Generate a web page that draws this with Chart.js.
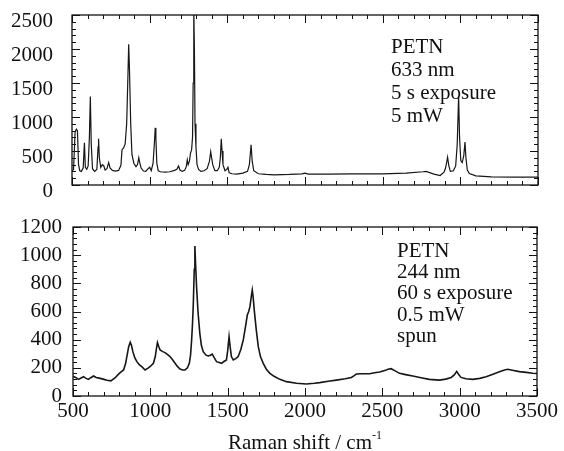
<!DOCTYPE html>
<html>
<head>
<meta charset="utf-8">
<script src="https://cdn.jsdelivr.net/npm/chart.js@4.4.0/dist/chart.umd.min.js"></script>
<style>
  body { margin: 0; background: #fff; }
  #wrap { position: relative; width: 564px; height: 451px; background: #fff; font-family: 'Liberation Serif', serif; color: #111; }
  #topChart { position: absolute; left: 0; top: 0; }
  #bottomChart { position: absolute; left: 0; top: 200px; }
  #xTitle { position: absolute; left: 73px; width: 464px; top: 423px; text-align: center; font-size: 21px; line-height: 24px; }
  #xTitle span { font-size: 12px; vertical-align: 10px; }
</style>
</head>
<body>
<div id="wrap">
  <canvas id="topChart" width="564" height="200"></canvas>
  <canvas id="bottomChart" width="564" height="251"></canvas>
  <div id="xTitle">Raman shift / cm<span>-1</span></div>
</div>
<script>
// 633 nm spectrum (top panel)
const topShift = [500, 510, 520, 528, 535, 542, 550, 560, 572, 580, 586, 595, 604, 612, 618, 624, 632, 645, 660, 668, 671, 676, 685, 695, 705, 713, 725, 736, 745, 760, 780, 800, 815, 822, 832, 842, 852, 860, 865, 870, 878, 886, 898, 912, 922, 930, 936, 945, 960, 975, 990, 1000, 1010, 1022, 1030, 1036, 1040, 1046, 1055, 1070, 1100, 1130, 1160, 1175, 1186, 1195, 1210, 1225, 1236, 1242, 1248, 1256, 1263, 1270, 1276, 1280, 1284, 1288, 1292, 1298, 1305, 1315, 1330, 1350, 1370, 1385, 1393, 1399, 1406, 1420, 1435, 1448, 1455, 1461, 1466, 1472, 1485, 1497, 1504, 1512, 1530, 1560, 1600, 1630, 1642, 1653, 1660, 1670, 1700, 1750, 1800, 1900, 1980, 2000, 2020, 2150, 2300, 2500, 2650, 2760, 2780, 2830, 2870, 2895, 2905, 2918, 2926, 2936, 2955, 2970, 2980, 2989, 2995, 3003, 3012, 3022, 3030, 3036, 3045, 3058, 3100, 3200, 3350, 3500];
const topCounts = [200, 230, 780, 820, 800, 300, 210, 200, 250, 620, 260, 230, 280, 700, 1300, 600, 240, 200, 230, 560, 680, 400, 260, 300, 280, 220, 240, 330, 250, 215, 205, 215, 290, 520, 545, 600, 900, 1600, 2070, 1700, 900, 450, 320, 270, 300, 400, 330, 250, 205, 200, 240, 260, 210, 320, 600, 840, 700, 320, 210, 195, 190, 195, 215, 230, 280, 220, 200, 215, 270, 370, 300, 350, 470, 520, 700, 1500, 2600, 2000, 900, 560, 300, 230, 200, 210, 240, 350, 490, 400, 300, 210, 210, 260, 400, 680, 500, 300, 210, 230, 260, 180, 165, 160, 175, 200, 300, 590, 350, 210, 165, 155, 150, 155, 165, 175, 160, 160, 165, 165, 175, 195, 200, 160, 140, 190, 250, 410, 280, 200, 210, 280, 600, 1310, 700, 360, 330, 430, 630, 400, 220, 170, 135, 120, 115, 115];

// 244 nm spectrum (bottom panel)
const bottomShift = [500, 520, 536, 552, 568, 584, 600, 615, 633, 650, 676, 700, 720, 745, 773, 790, 805, 827, 840, 850, 860, 870, 878, 887, 900, 913, 930, 945, 966, 985, 998, 1020, 1032, 1040, 1046, 1055, 1063, 1080, 1095, 1110, 1127, 1145, 1160, 1175, 1192, 1210, 1224, 1240, 1252, 1260, 1267, 1273, 1278, 1284, 1288, 1292, 1299, 1308, 1320, 1330, 1342, 1360, 1374, 1388, 1400, 1414, 1428, 1445, 1460, 1476, 1492, 1500, 1509, 1516, 1524, 1536, 1552, 1568, 1585, 1601, 1615, 1627, 1636, 1644, 1652, 1659, 1665, 1672, 1685, 1698, 1712, 1730, 1750, 1773, 1800, 1837, 1880, 1945, 2009, 2060, 2095, 2150, 2203, 2260, 2300, 2318, 2332, 2370, 2418, 2450, 2483, 2520, 2537, 2557, 2580, 2611, 2650, 2697, 2750, 2804, 2869, 2910, 2945, 2965, 2981, 2995, 3009, 3040, 3085, 3130, 3171, 3215, 3257, 3290, 3311, 3340, 3386, 3430, 3472, 3500];
const bottomCounts = [140, 130, 118, 128, 137, 125, 118, 130, 142, 132, 125, 118, 112, 108, 130, 150, 166, 185, 230, 290, 350, 381, 360, 315, 270, 244, 220, 208, 185, 198, 208, 232, 280, 340, 379, 350, 327, 315, 308, 295, 280, 255, 232, 210, 192, 185, 185, 200, 232, 290, 398, 520, 658, 900, 1065, 950, 776, 600, 445, 360, 315, 290, 284, 290, 298, 270, 244, 238, 232, 245, 256, 320, 421, 350, 280, 256, 265, 280, 330, 398, 490, 575, 600, 634, 700, 752, 700, 610, 470, 350, 280, 232, 190, 161, 140, 118, 102, 90, 85, 90, 95, 105, 113, 122, 132, 145, 156, 158, 158, 165, 170, 182, 190, 194, 180, 161, 152, 142, 130, 118, 113, 120, 132, 150, 175, 150, 132, 122, 118, 125, 137, 155, 173, 185, 190, 183, 173, 168, 161, 160];

const xTickValues = [500, 1000, 1500, 2000, 2500, 3000, 3500];
const topTickValues = [0, 500, 1000, 1500, 2000, 2500];
const bottomTickValues = [0, 200, 400, 600, 800, 1000, 1200];

const topNotes = ['PETN', '633 nm', '5 s exposure', '5 mW'];
const bottomNotes = ['PETN', '244 nm', '60 s exposure', '0.5 mW', 'spun'];

Chart.defaults.font.family = "'Liberation Serif', serif";
Chart.defaults.color = '#111';

// frame with inward ticks on all four sides
const frameTicks = {
    id: 'frameTicks',
    afterDraw(chart, args, opts) {
        const { ctx, chartArea: a, scales: { x, y } } = chart;
        ctx.save();
        ctx.strokeStyle = '#111';
        ctx.lineWidth = 1.3;
        ctx.strokeRect(a.left, a.top, a.right - a.left, a.bottom - a.top);
        ctx.lineWidth = 1;
        ctx.beginPath();
        for (let v = x.min; v <= x.max; v += opts.xMinor) {
            const px = Math.round(x.getPixelForValue(v)) + 0.5;
            const len = v % opts.xMajor === 0 ? 8 : 4;
            ctx.moveTo(px, a.bottom); ctx.lineTo(px, a.bottom - len);
            ctx.moveTo(px, a.top); ctx.lineTo(px, a.top + len);
        }
        for (let v = y.min; v <= y.max; v += opts.yMinor) {
            const py = Math.round(y.getPixelForValue(v)) + 0.5;
            const len = v % opts.yMajor === 0 ? 8 : 4;
            ctx.moveTo(a.left, py); ctx.lineTo(a.left + len, py);
            ctx.moveTo(a.right, py); ctx.lineTo(a.right - len, py);
        }
        ctx.stroke();
        ctx.restore();
    }
};

const notes = {
    id: 'notes',
    afterDraw(chart, args, opts) {
        const ctx = chart.ctx;
        ctx.save();
        ctx.font = "21px 'Liberation Serif'";
        ctx.fillStyle = '#111';
        ctx.textBaseline = 'alphabetic';
        opts.lines.forEach((t, i) => ctx.fillText(t, opts.x, opts.y + i * opts.step));
        ctx.restore();
    }
};

function makeChart(id, shift, counts, cfg) {
    return new Chart(document.getElementById(id), {
        type: 'line',
        data: {
            datasets: [{
                data: shift.map((s, i) => ({ x: s, y: counts[i] })),
                borderColor: '#161616',
                borderWidth: cfg.lineWidth,
                pointRadius: 0,
                tension: 0,
                fill: false
            }]
        },
        options: {
            responsive: false,
            animation: false,
            events: [],
            layout: { padding: cfg.padding },
            plugins: {
                legend: { display: false },
                tooltip: { enabled: false },
                frameTicks: cfg.frame,
                notes: cfg.notes
            },
            scales: {
                x: {
                    type: 'linear',
                    min: 500,
                    max: 3500,
                    afterBuildTicks: s => { s.ticks = xTickValues.map(v => ({ value: v })); },
                    afterFit: s => { s.height = cfg.xHeight; },
                    grid: { display: false, drawTicks: false },
                    border: { display: false },
                    ticks: {
                        display: cfg.showX,
                        font: { size: 21 },
                        padding: 3,
                        maxRotation: 0,
                        autoSkip: false,
                        callback: v => String(v)
                    }
                },
                y: {
                    min: cfg.yMin,
                    max: cfg.yMax,
                    afterBuildTicks: s => { s.ticks = cfg.yTicks.map(v => ({ value: v })); },
                    afterFit: s => { s.width = cfg.yWidth; },
                    // invisible tick marks give the label gap without padding the chart area
                    grid: { display: true, color: 'rgba(0,0,0,0)', drawOnChartArea: false, drawTicks: true, tickLength: cfg.yGap },
                    border: { display: false },
                    ticks: {
                        font: { size: 21 },
                        padding: 0,
                        labelOffset: cfg.yOffset,
                        autoSkip: false,
                        callback: v => String(v)
                    }
                }
            }
        },
        plugins: [frameTicks, notes]
    });
}

makeChart('topChart', topShift, topCounts, {
    lineWidth: 1.2,
    padding: { left: 0, top: 15, right: 26, bottom: 0 },
    showX: false, xHeight: 15,
    yMin: 0, yMax: 2500, yTicks: topTickValues,
    yWidth: 72, yGap: 19, yOffset: 6,
    frame: { xMinor: 100, xMajor: 500, yMinor: 100, yMajor: 500 },
    notes: { lines: topNotes, x: 391, y: 53, step: 23 }
});

makeChart('bottomChart', bottomShift, bottomCounts, {
    lineWidth: 1.6,
    padding: { left: 0, top: 27, right: 27, bottom: 0 },
    showX: true, xHeight: 55,
    yMin: 0, yMax: 1200, yTicks: bottomTickValues,
    yWidth: 73, yGap: 11, yOffset: 0,
    frame: { xMinor: 100, xMajor: 500, yMinor: 40, yMajor: 200 },
    notes: { lines: bottomNotes, x: 397, y: 57, step: 21.2 }
});
</script>
</body>
</html>
